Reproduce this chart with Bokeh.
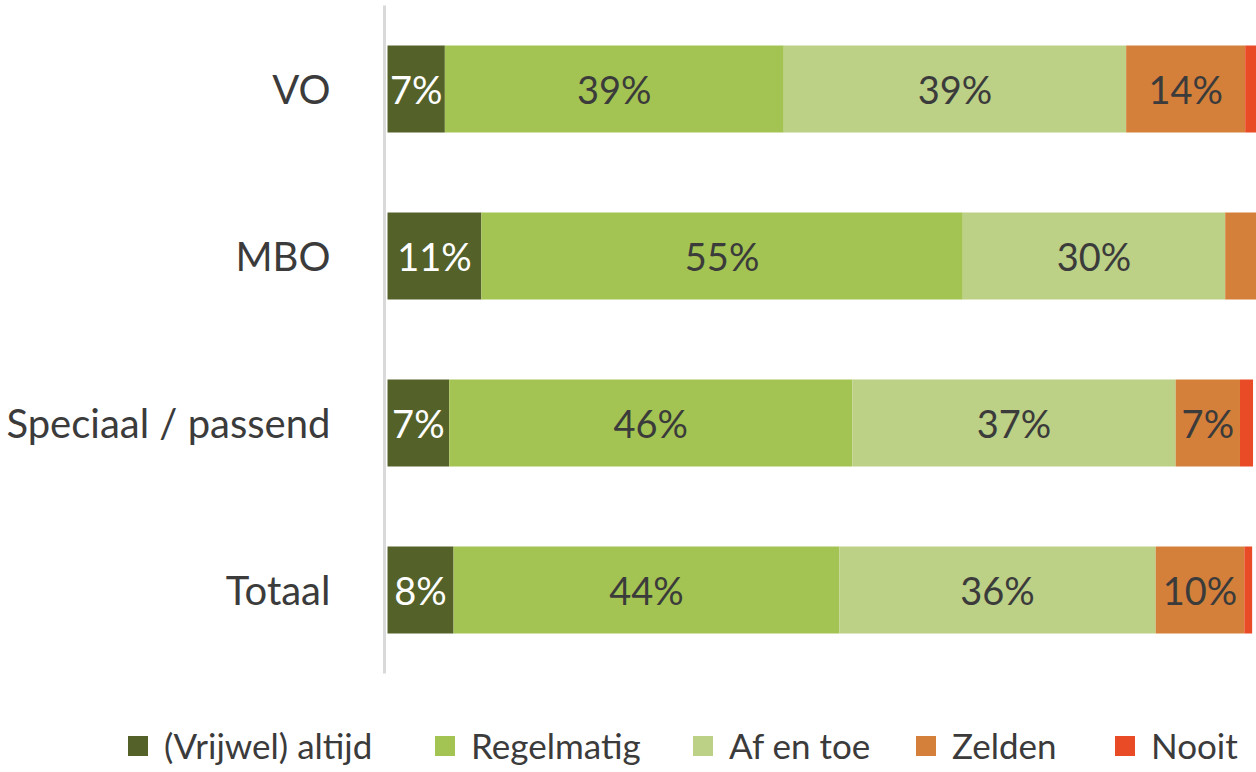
from bokeh.plotting import figure
from bokeh.models import ColumnDataSource, Range1d, Legend, LegendItem, FixedTicker
from bokeh.embed import file_html
from bokeh.resources import INLINE
from bokeh.core.properties import value

categories = ["VO", "MBO", "Speciaal / passend", "Totaal"]
series = ["(Vrijwel) altijd", "Regelmatig", "Af en toe", "Zelden", "Nooit"]
altijd = [6.6, 10.8, 7.1, 7.6]
regelmatig = [39.0, 55.4, 46.4, 44.4]
af_en_toe = [39.4, 30.2, 37.2, 36.4]
zelden = [13.7, 3.6, 7.4, 10.2]
nooit = [1.3, 0.0, 1.5, 0.9]
colors = ["#54622a", "#a3c452", "#bcd086", "#d5803a", "#e94b26"]
text_colors = ["#ffffff", "#3b3b3b", "#3b3b3b", "#3b3b3b", "#3b3b3b"]
legend_x = [125, 432, 690, 913, 1112]

FONT = "Lato"
TXT = "#3b3b3b"

n = len(categories)
ypos = [n - 1 - i for i in range(n)]  # first category on top

data = {"y": ypos}
all_vals = [altijd, regelmatig, af_en_toe, zelden, nooit]
for name, vals in zip(series, all_vals):
    data[name] = vals
source = ColumnDataSource(data)

W, H = 1256, 772
band = 167.0          # px per category
px_per_pct = 8.69     # px per percent
x_start = -387.0 / px_per_pct
y_end = (n - 0.5) + 5.0 / band
y_start = y_end - H / band

p = figure(width=W, height=H, output_backend="svg", toolbar_location=None,
           x_range=Range1d(x_start, 100), y_range=Range1d(y_start, y_end),
           min_border_left=0, min_border_right=0, min_border_top=0, min_border_bottom=0)
p.outline_line_color = None
p.grid.visible = False
p.xaxis.visible = False

renderers = p.hbar_stack(series, y="y", height=0.52, color=colors, source=source, line_color=None)

# value labels
lx, ly, lt, lc = [], [], [], []
for i in range(n):
    left = 0.0
    for j, vals in enumerate(all_vals):
        v = vals[i]
        if v >= 5:
            lx.append(left + v / 2)
            ly.append(ypos[i])
            lt.append(f"{round(v)}%")
            lc.append(text_colors[j])
        left += v
lsrc = ColumnDataSource(dict(x=lx, y=ly, t=lt, c=lc))
p.text(x="x", y="y", text="t", text_color="c", source=lsrc, text_align="center",
       text_baseline="middle", text_font=value(FONT), text_font_size="38px")

ax = p.yaxis[0]
ax.fixed_location = -0.35
ax.bounds = (-0.5, n - 0.5)
ax.ticker = FixedTicker(ticks=ypos)
ax.major_label_overrides = {yv: c for yv, c in zip(ypos, categories)}
ax.axis_line_color = "#d9d9d9"
ax.axis_line_width = 3
ax.major_tick_line_color = None
ax.minor_tick_line_color = None
ax.major_label_text_font = FONT
ax.major_label_text_font_size = "40px"
ax.major_label_text_color = TXT
ax.major_label_standoff = 48

for s, r, lxp in zip(series, renderers, legend_x):
    lg = Legend(items=[LegendItem(label=s, renderers=[r])], location=(lxp, 6))
    lg.label_text_font = FONT
    lg.label_text_font_size = "35px"
    lg.label_text_color = TXT
    lg.glyph_width = 25
    lg.glyph_height = 25
    lg.label_standoff = 14
    lg.padding = 0
    lg.margin = 0
    lg.border_line_color = None
    lg.background_fill_alpha = 0
    p.add_layout(lg, "center")

open("out.html", "w").write(file_html(p, INLINE))
